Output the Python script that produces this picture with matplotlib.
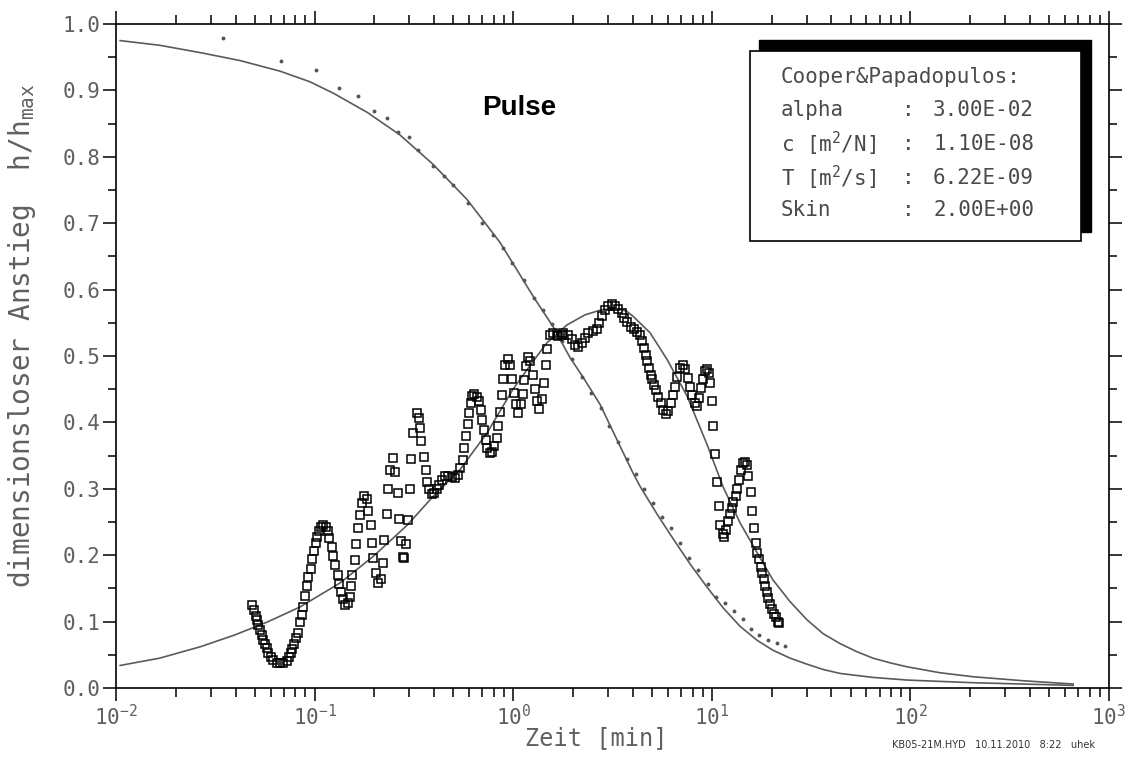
import numpy as np
import matplotlib
matplotlib.use("Agg")
import matplotlib.pyplot as plt
from matplotlib.patches import Rectangle
from matplotlib.ticker import LogLocator, MultipleLocator, FormatStrFormatter, NullFormatter

plt.rcParams['font.family'] = ['DejaVu Sans Mono', 'DejaVu Sans']
plt.rcParams['mathtext.fontset'] = 'custom'
plt.rcParams['mathtext.rm'] = 'DejaVu Sans Mono'
plt.rcParams['mathtext.it'] = 'DejaVu Sans Mono'

# -------- Data --------
# type curve 1 (falling)
curve_a_x = [0.0105, 0.0166, 0.0265, 0.0421, 0.067, 0.0948, 0.124, 0.184, 0.269, 0.394,
             0.585, 0.859, 1.12, 1.26, 1.59, 1.93, 2.25, 2.74, 3.33, 4.01, 4.35, 5.30,
             6.38, 7.77, 9.46, 11.39, 13.87, 16.89, 20.3, 24.8, 30.1, 36.3, 44.2, 53.5,
             64.8, 78.9, 96.2, 141.0, 207.0, 369.0, 660.0]
curve_a_y = [0.975, 0.968, 0.957, 0.945, 0.929, 0.913, 0.896, 0.867, 0.833, 0.789,
             0.736, 0.671, 0.615, 0.590, 0.544, 0.498, 0.468, 0.427, 0.374, 0.324, 0.304, 0.262,
             0.225, 0.187, 0.152, 0.121, 0.093, 0.072, 0.057, 0.045, 0.036, 0.028, 0.022, 0.019,
             0.016, 0.014, 0.012, 0.010, 0.008, 0.006, 0.004]

# type curve 2 (rise and fall)
curve_b_x = [0.0105, 0.0166, 0.0265, 0.0397, 0.0584, 0.0844, 0.134, 0.197, 0.292, 0.394,
             0.540, 0.738, 0.998, 1.26, 1.48, 1.87, 2.30, 2.74, 3.18, 3.70, 4.01, 4.89,
             5.95, 7.50, 9.46, 11.4, 13.87, 16.9, 20.3, 24.8, 30.1, 36.3, 44.2, 53.5,
             64.8, 78.9, 96.2, 141.0, 207.0, 369.0, 660.0]
curve_b_y = [0.034, 0.045, 0.062, 0.080, 0.100, 0.122, 0.158, 0.198, 0.245, 0.288,
             0.329, 0.384, 0.450, 0.492, 0.520, 0.547, 0.562, 0.569, 0.572, 0.568, 0.560, 0.535,
             0.495, 0.440, 0.367, 0.303, 0.249, 0.204, 0.163, 0.130, 0.103, 0.082, 0.067, 0.055,
             0.045, 0.038, 0.032, 0.023, 0.017, 0.011, 0.006]

# small dots
dots_x = [0.0346, 0.0678, 0.1016, 0.1327, 0.1654, 0.199, 0.2315, 0.263, 0.2987, 0.3316,
          0.394, 0.448, 0.4975, 0.592, 0.697, 0.791, 0.888, 0.986, 1.133, 1.272, 1.413,
          1.568, 1.76, 1.977, 2.221, 2.465, 2.767, 3.036, 3.372, 3.741, 4.153, 4.557, 5.057,
          5.614, 6.232, 6.918, 7.677, 8.52, 9.57, 10.50, 11.66, 12.94, 14.36, 15.75,
          17.29, 19.19, 21.30, 23.37]
dots_y = [0.979, 0.944, 0.931, 0.903, 0.891, 0.869, 0.858, 0.838, 0.830, 0.810,
          0.786, 0.771, 0.757, 0.731, 0.701, 0.682, 0.662, 0.640, 0.615, 0.588, 0.569,
          0.548, 0.522, 0.496, 0.469, 0.445, 0.421, 0.395, 0.370, 0.345, 0.323, 0.299, 0.278,
          0.258, 0.241, 0.219, 0.196, 0.178, 0.157, 0.137, 0.128, 0.116, 0.104, 0.089,
          0.080, 0.072, 0.068, 0.063]

# measured pulse data (open squares)
meas_x = [0.0486, 0.0495, 0.0507, 0.0515, 0.0521, 0.0531, 0.0541, 0.0552, 0.0563, 0.0574,
          0.0585, 0.0603, 0.0620, 0.0644, 0.0669, 0.0696, 0.0723, 0.0743, 0.0761, 0.0772,
          0.0791, 0.0806, 0.0822, 0.0844, 0.0861, 0.0871, 0.0895, 0.0912, 0.0930, 0.0959,
          0.0974, 0.0993, 0.1012, 0.1032, 0.1052, 0.1077, 0.1107, 0.1137, 0.1164, 0.1187,
          0.1219, 0.1243, 0.1267, 0.1306, 0.1332, 0.1358, 0.1384, 0.1422, 0.1479, 0.1508,
          0.1526, 0.1549, 0.1598, 0.1610, 0.1648, 0.1693, 0.1726, 0.1780, 0.1829, 0.1865,
          0.1916, 0.1938, 0.1976, 0.2038, 0.2094, 0.2160, 0.2202, 0.2236, 0.2306, 0.2351,
          0.2397, 0.2472, 0.2540, 0.2619, 0.2661, 0.2713, 0.2776, 0.2830, 0.2874, 0.2965,
          0.3023, 0.3058, 0.3141,
          0.3265, 0.3354, 0.3394, 0.3433, 0.3568, 0.3624, 0.3666, 0.3767, 0.3885, 0.4007,
          0.4117, 0.4230, 0.4362, 0.4534, 0.4713, 0.4898, 0.5091, 0.5252, 0.5396, 0.5564,
          0.5674, 0.5763, 0.5898, 0.6014, 0.6106, 0.6225, 0.6371, 0.6547, 0.6726, 0.6856,
          0.6991, 0.7124, 0.7264, 0.7406, 0.7638, 0.7848, 0.8035, 0.8254, 0.8350, 0.8581,
          0.8745, 0.8918, 0.9093, 0.9378, 0.9634, 0.9899, 1.0093, 1.029, 1.061, 1.094,
          1.116, 1.138, 1.160, 1.192, 1.220, 1.263, 1.287, 1.313, 1.349, 1.391,
          1.435, 1.463, 1.485, 1.531, 1.592, 1.655, 1.754,
          1.687, 1.788, 1.895, 1.970, 2.047, 2.128, 2.212, 2.299, 2.389, 2.512,
          2.632, 2.715, 2.789, 2.899, 3.013, 3.131, 3.255, 3.383, 3.517, 3.627,
          3.755, 3.904, 4.057, 4.217, 4.350, 4.469, 4.556, 4.645, 4.736, 4.829,
          4.923, 5.019, 5.117, 5.216, 5.381, 5.550, 5.702, 5.858, 6.042, 6.208,
          6.353, 6.527, 6.706, 6.917, 7.134, 7.358, 7.560, 7.767, 7.980, 8.199,
          8.456, 8.654, 8.823, 8.995, 9.242, 9.495, 9.718, 9.793, 10.06,
          10.18, 10.38, 10.58, 10.83, 11.00, 11.34, 11.52, 11.79, 12.11, 12.35,
          12.59, 12.84, 13.19, 13.45, 13.76, 14.03, 14.30, 14.70, 14.98, 15.28,
          15.69, 16.00, 16.31, 16.69, 16.95, 17.29, 17.62, 17.97, 18.32, 18.60,
          18.89, 19.26, 19.64, 20.02, 20.57, 20.97, 21.46, 21.80]
meas_y = [0.125, 0.117, 0.109, 0.102, 0.095, 0.087, 0.080, 0.073, 0.066, 0.060,
          0.053, 0.047, 0.042, 0.038, 0.037, 0.038, 0.041, 0.047, 0.053, 0.059,
          0.067, 0.075, 0.083, 0.099, 0.110, 0.122, 0.138, 0.153, 0.167, 0.180,
          0.194, 0.207, 0.218, 0.227, 0.236, 0.243, 0.246, 0.243, 0.236, 0.226,
          0.213, 0.199, 0.186, 0.170, 0.157, 0.144, 0.134, 0.125, 0.128, 0.137,
          0.153, 0.170, 0.193, 0.217, 0.241, 0.261, 0.278, 0.289, 0.284, 0.267,
          0.245, 0.218, 0.196, 0.173, 0.158, 0.164, 0.188, 0.223, 0.262, 0.299,
          0.329, 0.347, 0.326, 0.294, 0.254, 0.221, 0.198, 0.196, 0.217, 0.253,
          0.299, 0.345, 0.384,
          0.414, 0.407, 0.392, 0.372, 0.348, 0.328, 0.310, 0.299, 0.292, 0.294,
          0.299, 0.306, 0.314, 0.319, 0.319, 0.318, 0.316, 0.321, 0.331, 0.344,
          0.361, 0.379, 0.397, 0.414, 0.429, 0.440, 0.443, 0.439, 0.432, 0.419,
          0.404, 0.388, 0.374, 0.362, 0.354, 0.355, 0.364, 0.377, 0.394, 0.415,
          0.442, 0.466, 0.486, 0.496, 0.486, 0.466, 0.445, 0.427, 0.414, 0.427,
          0.443, 0.464, 0.485, 0.499, 0.492, 0.472, 0.450, 0.433, 0.420, 0.435,
          0.460, 0.486, 0.510, 0.532, 0.535, 0.532, 0.532,
          0.530, 0.535, 0.532, 0.525, 0.517, 0.513, 0.520, 0.527, 0.535, 0.537,
          0.540, 0.550, 0.560, 0.570, 0.576, 0.578, 0.576, 0.571, 0.565, 0.558,
          0.551, 0.544, 0.540, 0.536, 0.532, 0.522, 0.512, 0.502, 0.492, 0.482,
          0.472, 0.465, 0.457, 0.449, 0.439, 0.429, 0.419, 0.413, 0.417, 0.429,
          0.442, 0.454, 0.469, 0.482, 0.486, 0.480, 0.467, 0.454, 0.442, 0.429,
          0.425, 0.437, 0.452, 0.466, 0.477, 0.481, 0.475, 0.460, 0.432,
          0.395, 0.353, 0.311, 0.274, 0.246, 0.232, 0.228, 0.238, 0.251, 0.262,
          0.271, 0.280, 0.289, 0.300, 0.314, 0.328, 0.339, 0.341, 0.336, 0.320,
          0.295, 0.266, 0.241, 0.218, 0.204, 0.194, 0.183, 0.173, 0.164, 0.154,
          0.145, 0.135, 0.127, 0.119, 0.112, 0.107, 0.100, 0.098]

param_names = ["alpha", "c [m$^{2}$/N]", "T [m$^{2}$/s]", "Skin"]
param_values = ["3.00E-02", "1.10E-08", "6.22E-09", "2.00E+00"]

# -------- Figure --------
fig = plt.figure(figsize=(11.38, 7.6), dpi=100)
ax = fig.add_axes([0.1019, 0.0947, 0.8726, 0.8737])

line_col = '#5a5a5a'
ax.plot(curve_a_x, curve_a_y, color=line_col, lw=1.2)
ax.plot(curve_b_x, curve_b_y, color=line_col, lw=1.2)
ax.plot(dots_x, dots_y, linestyle='none', marker='o', ms=2.8,
        color='#555555', mew=0)
ax.plot(meas_x, meas_y, linestyle='none', marker='s', ms=5.4,
        mfc='none', mec='black', mew=1.1)

ax.set_xscale('log')
ax.set_xlim(1e-2, 1e3)
ax.set_ylim(0, 1.0)

ax.xaxis.set_minor_locator(LogLocator(base=10, subs=np.arange(2, 10), numticks=20))
ax.xaxis.set_minor_formatter(NullFormatter())
ax.set_xticks([1e-2, 1e-1, 1e0, 1e1, 1e2, 1e3])
ax.set_xticklabels([r'$\mathregular{10^{-2}}$', r'$\mathregular{10^{-1}}$',
                    r'$\mathregular{10^{0}}$', r'$\mathregular{10^{1}}$',
                    r'$\mathregular{10^{2}}$', r'$\mathregular{10^{3}}$'])
ax.yaxis.set_major_locator(MultipleLocator(0.1))
ax.yaxis.set_minor_locator(MultipleLocator(0.05))
ax.yaxis.set_major_formatter(FormatStrFormatter('%.1f'))

ax.tick_params(which='both', direction='out', top=True, right=True,
               labelcolor='#606060', labelsize=15, width=1.1, color='black')
ax.tick_params(axis='x', which='major', length=9.5, pad=2)
ax.tick_params(axis='x', which='minor', length=6.5)
ax.tick_params(axis='y', which='major', length=9.5, pad=1.5)
ax.tick_params(axis='y', which='minor', length=6)
for s in ax.spines.values():
    s.set_linewidth(1.2)

ax.set_xlabel('Zeit [min]', fontsize=17, color='#606060')
ax.xaxis.set_label_coords(0.484, -0.058)
ax.set_ylabel(r'dimensionsloser Anstieg  h/h$_{\mathrm{max}}$', fontsize=20, color='#606060')
ax.yaxis.set_label_coords(-0.0785, 0.53)

ax.text(0.406, 0.873, 'Pulse', transform=ax.transAxes, fontsize=20,
        fontweight='bold', family='Liberation Sans', ha='center', va='center')

# parameter box with black shadow
ax.add_patch(Rectangle((0.6475, 0.6867), 0.3344, 0.2892, transform=ax.transAxes,
                       facecolor='black', edgecolor='black', zorder=5, clip_on=False))
ax.add_patch(Rectangle((0.6385, 0.6732), 0.3333, 0.2861, transform=ax.transAxes,
                       facecolor='white', edgecolor='black', lw=1.2, zorder=6, clip_on=False))
txt_col = '#4a4a4a'
ax.text(0.6697, 0.920, 'Cooper&Papadopulos:', transform=ax.transAxes, fontsize=15,
        color=txt_col, va='center', ha='left', zorder=7)
rows_y = [0.870, 0.819, 0.768, 0.720]
for name, val, yy in zip(param_names, param_values, rows_y):
    ax.text(0.6697, yy, name, transform=ax.transAxes, fontsize=15,
            color=txt_col, va='center', ha='left', zorder=7)
    ax.text(0.798, yy, ':', transform=ax.transAxes, fontsize=15,
            color=txt_col, va='center', ha='center', zorder=7)
    ax.text(0.8228, yy, val, transform=ax.transAxes, fontsize=15,
            color=txt_col, va='center', ha='left', zorder=7)

fig.text(0.962, 0.0197, 'KB05-21M.HYD   10.11.2010   8:22   uhek', fontsize=7,
         family='DejaVu Sans', ha='right', va='center', color='#333333')

fig.savefig('out.png', dpi=100)
